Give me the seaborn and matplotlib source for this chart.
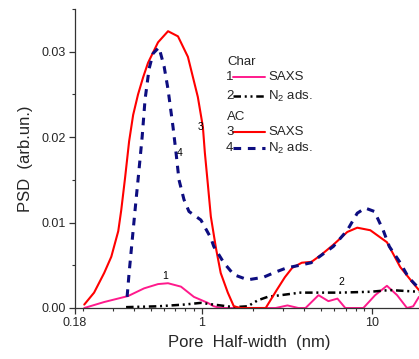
import numpy as np
import pandas as pd
import matplotlib
matplotlib.use("Agg")
import matplotlib.pyplot as plt
import seaborn as sns

sns.set_theme(style="white")
plt.rcParams['font.family'] = ['Liberation Sans', 'DejaVu Sans']
plt.rcParams['mathtext.fontset'] = 'custom'
plt.rcParams['mathtext.rm'] = 'Liberation Sans'
plt.rcParams['mathtext.default'] = 'rm'

# ---- data ----
# Curve 3: AC, SAXS (red)
ac_saxs_x = [0.204, 0.233, 0.267, 0.294, 0.323, 0.336, 0.354, 0.374, 0.395, 0.422, 0.452, 0.483,
             0.553, 0.633, 0.724, 0.828, 0.947, 1.014, 1.041, 1.084, 1.129, 1.21, 1.29,
             1.42, 1.54, 1.69, 2.37, 2.75, 3.07, 3.39, 3.86, 4.4, 5.0, 5.91,
             7.14, 8.17, 9.75, 12.2, 14.6, 17.4, 18.8]
ac_saxs_y = [0.0004, 0.0018, 0.0041, 0.0060, 0.0090, 0.0114, 0.0152, 0.0195, 0.0226, 0.0250, 0.0270, 0.0287,
             0.0311, 0.0324, 0.0318, 0.0294, 0.0247, 0.0212, 0.0182, 0.0145, 0.0107, 0.0070, 0.0041,
             0.0018, 0.0002, 0.0, 0.0, 0.0021, 0.0036, 0.0047, 0.0053, 0.0054, 0.0062, 0.0074,
             0.0089, 0.0094, 0.0091, 0.0077, 0.0048, 0.0029, 0.0021]

# Curve 4: AC, N2 adsorption (navy dashed)
ac_n2_x = [0.364, 0.374, 0.395, 0.411, 0.422, 0.446, 0.464, 0.490, 0.517, 0.560, 0.600,
           0.633, 0.677, 0.705, 0.734, 0.785, 0.840, 0.987, 1.129, 1.175, 1.345, 1.54,
           1.86, 2.30, 2.70, 3.15, 3.75, 4.38, 5.91, 7.14, 8.17, 9.10, 10.3, 11.6, 12.6,
           14.6, 16.3, 18.8]
ac_n2_y = [0.0013, 0.0041, 0.0091, 0.0127, 0.0150, 0.0200, 0.0244, 0.0280, 0.0298, 0.0305, 0.0283,
           0.0256, 0.0212, 0.0182, 0.0150, 0.0127, 0.0113, 0.0103, 0.0082, 0.0072, 0.0053, 0.0039,
           0.0033, 0.0036, 0.0042, 0.0047, 0.0050, 0.0053, 0.0072, 0.0091, 0.0111, 0.0117, 0.0113,
           0.0091, 0.0072, 0.0053, 0.0036, 0.0023]

# Curve 1: Char, SAXS (pink)
char_saxs_x = [0.204, 0.267, 0.369, 0.458, 0.553, 0.633, 0.754, 0.898, 1.084, 1.175, 1.29,
               2.71, 3.18, 3.69, 4.06, 4.84, 5.53, 6.25, 6.95, 8.87, 10.4, 12.2, 14.0,
               16.0, 17.4, 18.8]
char_saxs_y = [0.0, 0.0007, 0.0014, 0.0023, 0.0028, 0.0029, 0.0025, 0.0013, 0.0006, 0.0002, 0.0,
               0.0, 0.0003, 0.0, 0.0, 0.0015, 0.0008, 0.0011, 0.0, 0.0, 0.0015, 0.0026, 0.0015,
               0.0, 0.0002, 0.0013]

# Curve 2: Char, N2 adsorption (black dash-dot)
char_n2_x = [0.359, 0.553, 0.785, 0.987, 1.175, 1.54, 1.86, 2.13, 2.43, 2.90, 3.79, 6.49,
             9.75, 12.7, 18.8]
char_n2_y = [0.0001, 0.0002, 0.0004, 0.0006, 0.0004, 0.0001, 0.0002, 0.0009, 0.0013, 0.0015,
             0.0018, 0.0018, 0.0019, 0.0021, 0.0019]

curve_labels = ["1", "2", "3", "4"]
label_x = [0.607, 6.59, 0.987, 0.744]
label_y = [0.0038, 0.0030, 0.0212, 0.0182]

x_ticks = [0.18, 1, 10]
x_ticklabels = ["0.18", "1", "10"]
y_ticks = [0.00, 0.01, 0.02, 0.03]
y_ticklabels = ["0.00", "0.01", "0.02", "0.03"]

# ---- styles ----
c_red = '#ff0000'
c_pink = '#ff1a8c'
c_navy = '#0d0d80'
c_black = '#000000'

fig = plt.figure(figsize=(4.19, 3.59), dpi=100)
ax = fig.add_axes([75/419, 51/359, 348.5/419, 299/359])

df3 = pd.DataFrame({'x': ac_saxs_x, 'y': ac_saxs_y})
df4 = pd.DataFrame({'x': ac_n2_x, 'y': ac_n2_y})
df1 = pd.DataFrame({'x': char_saxs_x, 'y': char_saxs_y})
df2 = pd.DataFrame({'x': char_n2_x, 'y': char_n2_y})

sns.lineplot(data=df1, x='x', y='y', ax=ax, color=c_pink, lw=1.4, sort=False, estimator=None)
sns.lineplot(data=df2, x='x', y='y', ax=ax, color=c_black, lw=1.8, sort=False, estimator=None)
ax.lines[-1].set_dashes((3, 1.5, 0.8, 1.5, 0.8, 1.5))
sns.lineplot(data=df3, x='x', y='y', ax=ax, color=c_red, lw=1.5, sort=False, estimator=None)
sns.lineplot(data=df4, x='x', y='y', ax=ax, color=c_navy, lw=2.2, sort=False, estimator=None)
ax.lines[-1].set_dashes((2.5, 2.2))

for t, xx, yy in zip(curve_labels, label_x, label_y):
    ax.text(xx, yy, t, fontsize=7.5, ha='center', va='center', color='black')

ax.set_xscale('log')
ax.set_xlim(0.18, 20)
ax.set_ylim(0, 0.035)
ax.set_xticks(x_ticks)
ax.set_xticklabels(x_ticklabels)
ax.xaxis.set_minor_locator(matplotlib.ticker.LogLocator(base=10, subs=np.arange(2, 10) * 1.0, numticks=20))
ax.xaxis.set_minor_formatter(matplotlib.ticker.NullFormatter())
ax.set_yticks(y_ticks)
ax.set_yticklabels(y_ticklabels)
ax.yaxis.set_minor_locator(matplotlib.ticker.MultipleLocator(0.005))

ax.tick_params(axis='both', which='major', direction='out', length=4.5, width=0.9,
               labelsize=9, color='#333333', pad=2, bottom=True, left=True)
ax.tick_params(axis='both', which='minor', direction='out', length=2.5, width=0.8,
               color='#333333', bottom=True, left=True)
for s in ['top', 'right']:
    ax.spines[s].set_visible(False)
for s in ['left', 'bottom']:
    ax.spines[s].set_color('#333333')
    ax.spines[s].set_linewidth(0.9)

ax.set_xlabel("Pore  Half-width  (nm)", fontsize=12, labelpad=4)
ax.set_ylabel("PSD  (arb.un.)", fontsize=12, labelpad=6)

# ---- legend (manual, axes coordinates) ----
def ax_x(px):
    return (px - 75) / 348.5

def ax_y(py):
    return (308 - py) / 299

lfs = 9.5
ax.text(ax_x(227), ax_y(62), "Char", transform=ax.transAxes, fontsize=lfs, va='center', ha='left')
ax.text(ax_x(227), ax_y(117), "AC", transform=ax.transAxes, fontsize=lfs, va='center', ha='left')
rows = [(77, "1", c_pink, 1.4, None, "SAXS"),
        (96, "2", c_black, 1.8, (3, 1.5, 0.8, 1.5, 0.8, 1.5), "N$_2$ ads."),
        (132, "3", c_red, 1.5, None, "SAXS"),
        (148, "4", c_navy, 2.2, (2.5, 2.2), "N$_2$ ads.")]
for py, num, col, lw, dsh, lab in rows:
    ax.text(ax_x(226), ax_y(py), num, transform=ax.transAxes, fontsize=lfs, va='center', ha='left')
    ln, = ax.plot([ax_x(233), ax_x(265)], [ax_y(py), ax_y(py)], transform=ax.transAxes,
                  color=col, lw=lw, clip_on=False)
    if dsh is not None:
        ln.set_dashes(dsh)
    ax.text(ax_x(268), ax_y(py), lab, transform=ax.transAxes, fontsize=lfs, va='center', ha='left')

fig.savefig("out.png", dpi=100)
